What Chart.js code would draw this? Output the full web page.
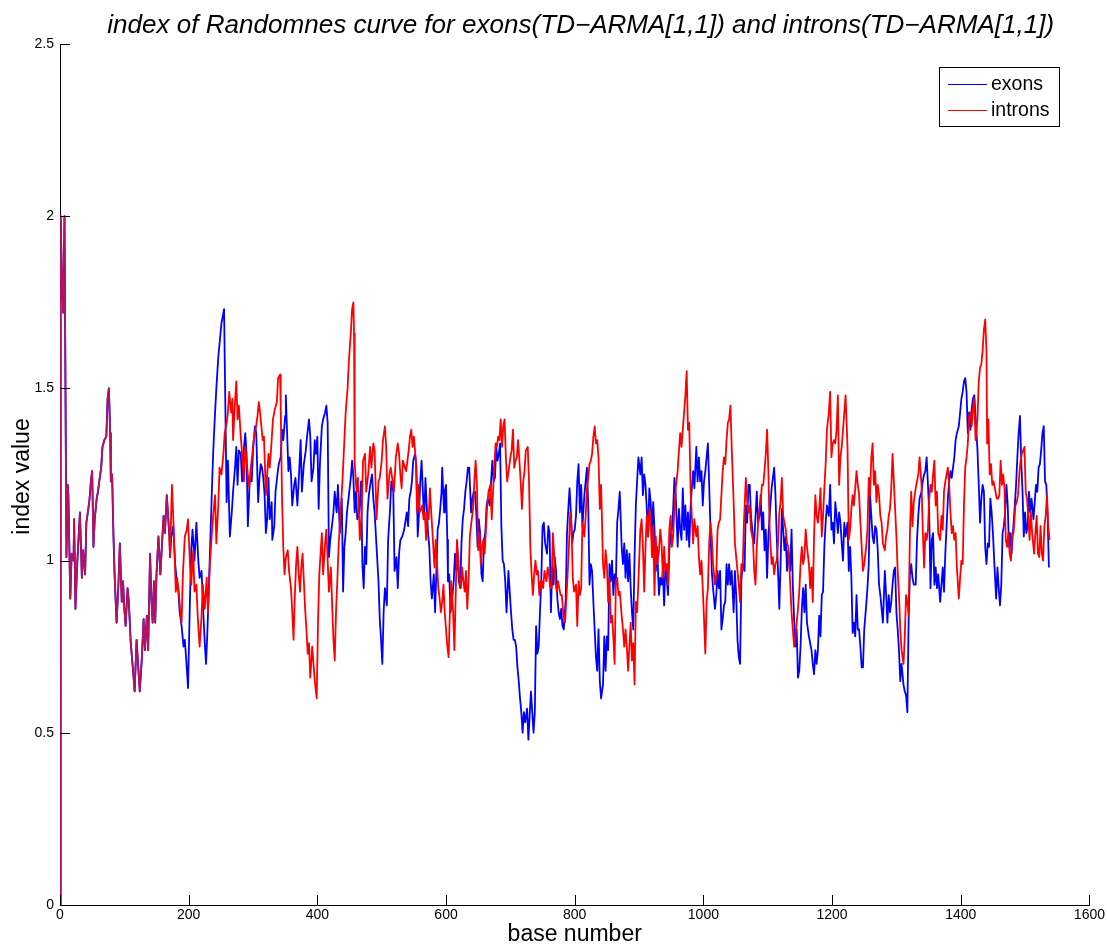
<!DOCTYPE html>
<html>
<head>
<meta charset="utf-8">
<title>index of Randomnes curve</title>
<script src="https://cdn.jsdelivr.net/npm/chart.js@4/dist/chart.umd.min.js"></script>
<style>
  html, body { margin: 0; padding: 0; background: #fff; }
  #wrap { width: 1107px; height: 945px; }
</style>
</head>
<body>
<div id="wrap"><canvas id="myChart" width="1107" height="945"></canvas></div>
<script>
// [base number, index value]
// both curves are identical up to base ~170
const sharedStart = [
  [0,0],[1,2.0],[3,1.81],[5,1.72],[7,2.0],[10,1.01],[12,1.22],[13,1.19],[16,0.89],[18,1.02],
  [21,1.0],[22,1.12],[24,0.86],[27,1.0],[31,1.14],[34,0.95],[36,1.03],[39,0.96],[41,1.11],[44,1.15],
  [46,1.18],[48,1.23],[50,1.26],[52,1.04],[54,1.12],[57,1.18],[59,1.2],[61,1.23],[64,1.27],[66,1.33],
  [69,1.35],[72,1.36],[74,1.47],[76,1.5],[78,1.37],[79,1.23],[81,1.25],[83,1.08],[85,0.95],[88,0.82],
  [91,0.94],[93,1.05],[96,0.88],[98,0.94],[100,0.86],[102,0.81],[105,0.92],[107,0.88],[110,0.76],[114,0.67],
  [116,0.62],[119,0.77],[122,0.68],[124,0.62],[127,0.71],[130,0.83],[132,0.74],[135,0.84],[137,0.74],[140,1.02],
  [142,0.89],[144,0.82],[146,0.94],[148,0.82],[150,0.96],[153,1.07],[156,0.96],[158,1.03],[161,1.13],[163,1.08],
  [166,1.19],[168,1.13],[170,1.07]
];

const exonRest = [
  [171,1.01],[173,1.07],[176,1.1],[179,0.99],[181,0.95],[184,0.91],[186,0.85],[189,0.81],[192,0.75],[194,0.77],
  [197,0.69],[199,0.63],[202,0.89],[204,1.03],[206,1.09],[209,1.0],[212,1.11],[215,1.0],[217,0.95],[220,0.97],
  [223,0.84],[225,0.76],[227,0.7],[229,0.79],[231,0.9],[234,1.08],[236,1.2],[238,1.31],[241,1.43],[243,1.5],
  [246,1.59],[249,1.65],[251,1.69],[254,1.72],[255,1.73],
  [259,1.17],[261,1.29],[264,1.07],[267,1.14],[269,1.2],[272,1.27],[274,1.33],[276,1.22],[278,1.32],[281,1.31],
  [283,1.23],[286,1.33],[288,1.37],[290,1.31],[292,1.1],[295,1.24],[298,1.23],[300,1.32],[303,1.39],[305,1.37],
  [308,1.17],[310,1.24],[312,1.28],[314,1.27],[316,1.24],[318,1.19],[320,1.08],[322,1.12],[324,1.24],[326,1.12],
  [329,1.17],[330,1.06],[333,1.1],[335,1.2],[338,1.25],[340,1.28],[343,1.3],[345,1.38],[347,1.35],[350,1.42],
  [351,1.48],[353,1.37],[355,1.26],[357,1.3],[359,1.25],[361,1.16],[364,1.22],[366,1.24],[369,1.16],[371,1.23],
  [374,1.35],[376,1.2],[379,1.28],[382,1.32],[384,1.36],[387,1.41],[389,1.36],[391,1.23],[394,1.27],[396,1.35],
  [398,1.31],[400,1.36],[402,1.15],[404,1.28],[407,1.39],[409,1.41],[412,1.43],[414,1.45],[416,1.4],[418,1.01],
  [420,1.06],[422,1.09],[425,1.14],[427,1.2],[430,1.14],[432,1.22],[435,1.08],[438,1.18],[440,0.91],[442,1.04],
  [444,1.08],[446,1.14],[449,1.19],[452,1.24],[454,1.29],[456,1.24],[458,1.14],[460,1.2],[462,1.12],[465,1.14],
  [468,1.23],[470,0.99],[472,0.92],[474,1.04],[476,0.99],[478,1.14],[480,1.19],[483,1.23],[485,1.25],[487,1.18],
  [489,1.14],[492,1.04],[495,0.94],[497,0.83],[499,0.77],[501,0.7],[503,0.85],[505,0.92],[508,0.87],[510,1.06],
  [513,1.15],[515,1.23],[518,1.2],[520,0.97],[523,1.01],[525,0.92],[527,1.02],[529,1.06],[532,1.07],[535,1.09],
  [539,1.14],[541,1.1],[543,1.18],[545,1.2],[547,1.23],[549,1.29],[552,1.31],[554,1.27],[556,1.07],[558,1.14],
  [560,1.23],[562,1.29],[564,1.2],[566,1.12],[568,1.24],[570,1.16],[572,1.08],[574,1.04],[576,0.94],[578,0.89],
  [581,0.96],[583,0.85],[585,0.97],[587,1.09],[589,1.11],[591,1.15],[593,1.2],[594,1.27],[597,1.14],[598,1.2],
  [600,1.22],[602,1.06],[603,0.94],[605,0.96],[607,0.85],[610,0.9],[612,0.94],[614,1.02],[616,0.97],[618,1.02],
  [620,0.94],[622,0.92],[624,1.05],[626,1.12],[628,1.15],[630,1.2],[632,1.23],[634,1.27],[636,1.27],[639,1.14],
  [641,1.18],[643,1.2],[645,1.2],[647,1.14],[649,1.04],[651,1.12],[653,1.08],[655,0.96],[657,0.94],[659,1.06],
  [661,1.08],[663,1.16],[665,1.18],[668,1.16],[670,1.23],[672,1.29],[674,1.23],[676,1.24],[678,1.33],[680,1.29],
  [682,1.31],[684,1.34],[686,1.1],[688,1.0],[690,0.99],[692,0.94],[694,0.85],[697,0.97],[699,0.91],[701,0.85],
  [703,0.8],[705,0.77],[707,0.77],[709,0.75],[711,0.69],[713,0.65],[715,0.6],[717,0.56],[719,0.5],[721,0.56],
  [723,0.53],[726,0.57],[728,0.48],[730,0.55],[732,0.62],[734,0.56],[736,0.5],[738,0.56],[740,0.81],[742,0.73],
  [744,0.75],[746,0.85],[748,0.94],[750,1.1],[752,1.11],[754,1.05],[757,1.02],[759,1.1],[761,1.08],[763,0.85],
  [765,0.98],[767,0.93],[769,1.01],[771,0.97],[773,0.89],[775,0.85],[777,0.83],[779,0.86],[781,0.81],[783,0.8],
  [786,0.89],[788,1.08],[790,1.15],[792,1.21],[794,1.14],[796,1.05],[798,1.08],[800,1.09],
  [802,1.13],[804,1.23],[806,1.28],[808,1.14],[810,1.22],[812,1.1],[815,1.19],[817,1.23],[819,1.27],[821,1.16],
  [823,0.93],[825,0.99],[827,0.97],[829,0.88],[831,0.8],[833,0.72],[835,0.68],[837,0.8],[839,0.65],[841,0.6],
  [844,0.64],[846,0.78],[848,0.68],[850,0.78],[852,0.74],[854,0.99],[856,0.94],[858,1.0],[860,0.9],[862,0.96],
  [864,0.94],[866,1.11],[868,1.15],[870,1.2],[873,1.04],[875,0.99],[877,1.05],[879,0.95],[881,1.03],[883,0.94],
  [885,1.02],[887,0.92],[889,0.85],[891,0.8],[893,1.01],[895,1.16],[897,1.23],[899,1.3],[902,1.25],[904,1.3],
  [906,1.19],[908,1.25],[910,1.22],[912,1.15],[914,1.07],[916,1.21],[918,1.17],[920,1.08],[922,1.17],[924,1.09],
  [926,0.97],[928,1.04],[931,0.9],[933,0.95],[935,0.93],[937,0.97],[939,0.87],[941,0.99],[943,0.95],[945,0.9],
  [947,1.03],[949,1.07],[951,1.09],[953,1.15],[955,1.24],[957,1.19],[960,1.04],[962,1.15],[964,1.09],[966,1.06],
  [968,1.21],[970,1.09],[972,1.16],[974,1.06],[976,1.14],[978,1.04],[980,1.15],[982,1.21],[984,1.26],[986,1.21],
  [989,1.33],[991,1.23],[993,1.3],[995,1.23],[997,1.26],[999,1.16],[1001,1.23],[1003,1.26],[1005,1.3],[1007,1.34],
  [1009,1.22],[1011,1.09],[1013,0.97],[1015,0.92],[1018,0.86],[1020,0.9],[1022,0.97],[1024,0.92],[1026,0.97],[1028,0.8],
  [1030,0.83],[1032,0.87],[1034,0.88],[1036,0.99],[1038,0.93],[1040,0.99],[1042,0.93],[1044,0.97],[1047,0.85],[1049,0.97],
  [1051,0.9],[1053,0.77],[1055,0.72],[1057,0.7],[1059,0.94],[1061,0.99],[1064,0.97],
  [1066,1.16],[1068,1.11],[1070,1.22],[1072,1.22],[1074,1.13],[1077,1.07],[1079,1.05],[1081,1.13],[1083,1.2],[1085,1.11],
  [1087,1.13],[1089,1.19],[1091,1.09],[1093,1.14],[1095,1.03],[1097,1.09],[1099,0.95],[1101,1.07],[1103,1.13],[1106,1.21],
  [1108,1.24],[1110,1.27],[1112,1.19],[1114,1.07],[1116,0.97],[1118,0.86],[1120,0.99],[1122,1.15],[1124,1.09],[1126,1.03],
  [1128,1.07],[1130,0.97],[1132,1.03],[1135,0.97],[1137,1.09],[1139,0.93],[1141,0.83],[1143,0.75],[1145,0.8],[1147,0.66],
  [1149,0.68],[1151,0.75],[1153,0.86],[1155,0.92],[1157,0.85],[1159,0.93],[1161,0.82],[1164,0.78],[1166,0.76],[1168,0.74],
  [1170,0.7],[1172,0.67],[1174,0.74],[1176,0.7],[1178,0.74],[1180,0.84],[1182,0.78],[1184,0.9],[1186,0.91],[1188,1.04],
  [1190,1.11],[1192,1.16],[1195,1.13],[1197,1.22],[1199,1.09],[1201,1.11],[1203,1.05],[1205,1.17],[1207,1.13],[1209,1.08],
  [1211,1.14],[1213,1.11],[1215,1.05],[1217,1.0],[1219,1.11],[1221,1.07],[1224,1.11],[1226,0.97],[1228,1.04],[1230,0.95],
  [1232,0.79],[1234,0.82],[1236,0.78],[1238,0.9],[1240,0.8],[1242,0.8],[1244,0.75],[1246,0.69],[1248,0.69],[1250,0.8],
  [1253,0.87],[1255,0.92],[1257,0.99],[1259,1.19],[1261,1.13],[1263,1.07],[1265,1.05],[1267,1.1],[1269,1.09],[1271,1.03],
  [1273,0.93],[1275,0.9],[1277,0.86],[1279,0.82],[1282,0.97],[1284,0.9],[1286,0.82],[1288,0.9],[1290,0.85],[1292,0.88],
  [1294,0.93],[1296,0.97],[1298,0.98],[1300,0.85],[1302,0.8],[1304,0.74],[1306,0.65],[1308,0.7],[1311,0.64],[1313,0.62],
  [1315,0.61],[1317,0.56],[1319,0.83],[1321,0.96],[1323,0.99],[1325,0.95],[1327,0.93],
  [1330,0.93],[1332,1.06],[1334,1.13],[1336,1.18],[1339,1.2],[1341,1.23],[1343,1.25],[1345,1.26],[1347,1.3],[1349,1.22],
  [1351,1.14],[1353,0.92],[1355,1.06],[1357,1.08],[1359,0.93],[1361,0.98],[1363,0.92],[1365,0.96],[1368,0.88],[1370,0.93],
  [1372,0.98],[1374,0.91],[1376,1.02],[1378,1.1],[1380,1.18],[1382,1.23],[1384,1.26],[1386,1.24],[1388,1.27],[1390,1.3],
  [1392,1.35],[1394,1.37],[1397,1.39],[1399,1.43],[1401,1.47],[1403,1.49],[1405,1.52],[1407,1.53],[1409,1.49],[1411,1.37],
  [1413,1.43],[1415,1.38],[1417,1.44],[1419,1.47],[1421,1.48],[1423,1.42],[1426,1.32],[1428,1.22],[1430,1.11],[1432,1.18],
  [1434,1.22],[1436,1.2],[1438,1.04],[1440,0.99],[1442,1.05],[1444,1.04],[1446,1.18],[1448,1.14],[1450,1.08],[1452,1.0],
  [1455,0.89],[1457,0.98],[1459,0.92],[1461,0.87],[1463,0.93],[1465,1.08],[1467,1.1],[1469,1.14],[1471,1.22],[1473,1.16],
  [1475,1.04],[1477,1.08],[1479,1.02],[1481,1.08],[1484,1.16],[1486,1.22],[1488,1.3],[1490,1.37],[1492,1.42],[1494,1.29],
  [1496,1.2],[1498,1.07],[1500,1.14],[1502,1.08],[1504,1.1],[1506,1.2],[1508,1.14],[1510,1.18],[1513,1.12],[1515,1.17],
  [1517,1.22],[1519,1.2],[1521,1.27],[1523,1.28],[1525,1.32],[1527,1.37],[1529,1.39],[1531,1.23],[1533,1.22],[1535,1.13],
  [1537,0.98]
];

const intronRest = [
  [171,1.01],[174,1.22],[177,1.08],[180,0.91],[182,0.95],[185,0.9],[187,0.85],[189,0.82],[191,0.96],[194,1.07],
  [197,1.09],[199,1.12],[202,0.99],[204,0.93],[207,1.03],[209,0.91],[212,0.93],[214,0.84],[217,0.75],[220,0.84],
  [222,0.93],[225,0.86],[228,0.95],[230,0.85],[233,0.99],[235,1.05],[238,1.13],[241,1.19],[243,1.05],[246,1.16],
  [248,1.27],[251,1.25],[254,1.31],[256,1.37],
  [259,1.4],[261,1.43],[263,1.49],[266,1.43],[268,1.47],[269,1.35],[272,1.46],[274,1.52],[276,1.41],[278,1.45],
  [281,1.36],[283,1.31],[286,1.23],[288,1.33],[291,1.27],[294,1.21],[296,1.26],[299,1.31],[301,1.35],[304,1.38],
  [307,1.42],[309,1.46],[311,1.43],[313,1.39],[315,1.35],[317,1.36],[320,1.19],[322,1.25],[324,1.31],[326,1.27],
  [329,1.35],[331,1.41],[334,1.44],[337,1.46],[339,1.53],[342,1.54],[343,1.45],[345,1.19],[347,1.04],[349,0.96],
  [351,1.01],[354,1.03],[356,0.97],[359,0.92],[361,0.85],[363,0.77],[365,0.9],[367,0.99],[369,1.04],[371,0.96],
  [373,0.91],[375,0.98],[377,1.02],[379,0.94],[381,0.86],[383,0.8],[385,0.73],[387,0.76],[389,0.66],[392,0.75],
  [394,0.7],[396,0.65],[399,0.6],[401,0.82],[403,0.96],[405,1.02],[407,1.08],[409,0.96],[412,1.05],[414,1.09],
  [416,1.0],[418,0.91],[421,0.98],[423,0.87],[425,0.77],[427,0.71],[429,0.85],[431,0.94],[433,1.04],[436,1.14],
  [439,1.23],[442,1.35],[444,1.43],[447,1.5],[449,1.58],[452,1.66],[454,1.73],[456,1.75],[457,1.66],[458,1.28],
  [461,1.2],[463,1.24],[466,1.06],[469,1.14],[471,1.29],[474,1.31],[476,1.2],[479,1.25],[482,1.33],[484,1.27],
  [487,1.34],[489,1.32],[492,1.12],[495,1.23],[497,1.24],[500,1.29],[502,1.35],[505,1.39],[507,1.33],[509,1.18],
  [512,1.25],[514,1.27],[517,1.23],[519,1.2],[522,1.3],[525,1.34],[527,1.31],[529,1.25],[531,1.21],[533,1.29],
  [536,1.27],
  [538,1.26],[540,1.29],[542,1.32],[544,1.36],[546,1.38],[548,1.33],[550,1.36],[553,1.29],[555,1.14],[557,1.22],
  [559,1.14],[561,1.15],[563,1.16],[565,1.12],[567,1.14],[569,1.06],[571,1.14],[573,1.12],[575,1.21],[577,1.14],
  [579,1.08],[582,0.98],[584,1.06],[586,0.99],[588,0.92],[590,0.89],[592,0.85],[594,0.88],[596,0.93],[598,0.85],
  [600,0.8],[602,0.75],[604,0.72],[606,0.85],[608,0.94],[611,0.85],[613,0.74],[615,0.9],[617,1.06],[619,1.01],
  [621,0.94],[623,0.92],[625,0.98],[627,0.94],[629,0.91],[631,0.97],[633,0.86],[635,0.94],[637,1.07],[640,1.12],
  [642,1.15],[644,1.23],[646,1.29],[648,1.22],[650,1.03],[652,1.08],[654,0.99],[656,1.04],[658,1.06],[660,1.02],
  [662,1.09],[664,1.16],[666,1.2],[669,1.22],[671,1.12],[673,1.2],[675,1.27],[677,1.34],[679,1.33],[681,1.36],
  [683,1.35],[685,1.41],[687,1.33],[689,1.39],[691,1.41],[693,1.3],[695,1.23],[698,1.27],[700,1.3],[702,1.32],
  [704,1.38],[706,1.27],[708,1.29],[710,1.3],[712,1.35],[714,1.29],[716,1.23],[718,1.15],[720,1.23],[722,1.26],
  [724,1.32],[727,1.33],[729,1.23],[731,1.04],[733,0.96],[735,0.9],[737,0.96],[739,1.0],[741,0.96],[743,0.97],
  [745,0.9],[747,0.94],[749,0.94],[751,0.92],[753,0.97],[756,0.94],[758,0.98],[760,0.96],[762,0.92],[764,0.92],
  [766,1.08],[768,1.02],[770,0.94],[772,0.91],[774,0.94],[776,0.92],[778,0.9],[780,0.9],[782,0.85],[785,0.82],
  [787,0.89],[789,0.96],[791,1.04],[793,1.14],[795,1.1],[797,0.95],[799,0.91],
  [802,0.93],[804,0.81],[806,0.94],[808,0.9],[810,0.92],[812,1.11],[815,1.07],[817,1.13],[819,1.21],[821,1.24],
  [823,1.28],[825,1.29],[827,1.31],[829,1.36],[831,1.39],[833,1.34],[835,1.35],[837,1.3],[839,1.15],[841,1.22],
  [844,0.99],[846,0.95],[848,1.03],[850,0.99],[852,0.88],[854,0.95],[856,0.82],[858,0.84],[860,0.78],[862,0.7],
  [864,0.94],[866,0.95],[868,0.9],[870,0.91],[873,0.84],[875,0.8],[877,0.75],[879,0.8],[881,0.75],[883,0.68],
  [885,0.75],[887,0.82],[889,0.71],[891,0.76],[893,0.64],[895,0.88],[897,0.85],[899,0.94],[902,1.09],[904,1.12],
  [906,1.04],[908,0.91],[910,1.04],[912,1.13],[914,1.07],[916,1.15],[918,1.12],[920,1.01],[922,1.1],[924,0.9],
  [926,1.07],[928,0.99],[931,1.03],[933,1.09],[935,1.05],[937,0.95],[939,1.04],[941,0.97],[943,0.99],[945,0.93],
  [947,1.09],[949,1.13],[951,1.04],[953,1.07],[955,1.15],[957,1.21],[960,1.26],[962,1.32],[964,1.37],[966,1.33],
  [968,1.38],[970,1.43],[972,1.48],[974,1.55],[976,1.38],[978,1.4],[980,1.21],[982,1.13],[984,1.05],[986,1.12],
  [989,1.07],[991,1.1],[993,1.01],[995,0.96],[997,1.0],[999,0.92],[1001,0.83],[1003,0.73],[1005,0.88],[1007,0.92],
  [1009,1.05],[1011,1.11],[1013,1.07],[1015,0.99],[1018,0.93],[1020,0.96],[1022,1.09],[1024,1.11],[1026,1.12],[1028,1.19],
  [1030,1.26],[1032,1.3],[1034,1.28],[1036,1.35],[1038,1.4],[1040,1.41],[1042,1.45],[1044,1.33],[1047,1.17],[1049,1.05],
  [1051,1.01],[1053,0.97],[1055,0.93],[1057,0.88],[1059,0.99],[1061,0.97],[1063,1.11],
  [1066,1.24],[1068,1.17],[1070,1.14],[1072,1.16],[1074,1.09],[1077,1.06],[1079,0.97],[1081,0.93],[1083,1.04],[1085,1.11],
  [1087,1.15],[1089,1.17],[1091,1.22],[1093,1.22],[1095,1.26],[1097,1.31],[1099,1.38],[1101,1.26],[1103,1.09],[1106,0.99],
  [1108,1.01],[1110,0.96],[1112,0.99],[1114,1.0],[1116,1.05],[1118,1.14],[1120,1.17],[1122,1.24],[1124,1.13],[1126,1.11],
  [1128,1.09],[1130,1.05],[1132,1.04],[1135,0.93],[1137,0.85],[1139,0.8],[1141,0.75],[1143,0.78],[1145,0.82],[1147,0.86],
  [1149,0.91],[1151,0.99],[1153,1.04],[1155,0.99],[1157,1.01],[1159,1.09],[1161,1.04],[1164,0.99],[1166,0.92],[1168,0.98],
  [1170,0.88],[1172,1.07],[1174,1.19],[1176,1.13],[1178,1.11],[1180,1.15],[1182,1.21],[1184,1.07],[1186,1.13],[1188,1.21],
  [1190,1.28],[1192,1.38],[1195,1.43],[1197,1.49],[1199,1.3],[1201,1.34],[1203,1.35],[1205,1.34],[1207,1.38],[1209,1.48],
  [1211,1.22],[1213,1.3],[1215,1.33],[1217,1.38],[1219,1.43],[1221,1.48],[1224,1.33],[1226,1.06],[1228,1.09],[1230,1.15],
  [1232,1.19],[1234,1.16],[1236,1.21],[1238,1.26],[1240,1.22],[1242,1.19],[1244,1.11],[1246,1.04],[1248,0.97],[1250,0.99],
  [1253,1.04],[1255,1.09],[1257,1.24],[1259,1.19],[1261,1.3],[1263,1.34],[1265,1.22],[1267,1.26],[1269,1.17],[1271,1.22],
  [1273,1.19],[1275,1.13],[1277,1.11],[1279,1.05],[1282,1.03],[1284,1.07],[1286,1.09],[1288,1.13],[1290,1.15],[1292,1.21],
  [1294,1.31],[1296,1.23],[1298,1.15],[1300,1.07],[1302,0.97],[1304,0.9],[1306,0.8],[1308,0.74],[1311,0.7],[1313,0.78],
  [1315,0.9],[1317,0.88],[1319,0.84],[1321,1.08],[1323,1.2],[1325,1.1],[1327,1.17],
  [1330,1.21],[1332,1.23],[1334,1.25],[1336,1.3],[1339,1.22],[1341,1.09],[1343,0.98],[1345,1.08],[1347,1.06],[1349,1.09],
  [1351,1.18],[1353,1.22],[1355,1.2],[1357,1.25],[1359,1.29],[1361,1.16],[1363,1.2],[1365,1.08],[1368,1.06],[1370,1.13],
  [1372,1.09],[1374,1.2],[1376,1.23],[1378,1.25],[1380,1.27],[1382,1.22],[1384,1.14],[1386,1.08],[1388,1.1],[1390,1.06],
  [1392,1.08],[1394,0.98],[1397,0.89],[1399,0.95],[1401,1.0],[1403,0.99],[1405,1.16],[1407,1.27],[1409,1.3],[1411,1.34],
  [1413,1.42],[1415,1.43],[1417,1.39],[1419,1.44],[1421,1.47],[1423,1.35],[1426,1.41],[1428,1.52],[1430,1.56],[1432,1.57],
  [1434,1.61],[1436,1.67],[1438,1.7],[1440,1.61],[1441,1.34],[1443,1.41],[1445,1.25],[1447,1.28],[1449,1.22],[1451,1.23],
  [1453,1.21],[1456,1.18],[1458,1.18],[1460,1.19],[1462,1.29],[1464,1.22],[1466,1.25],[1468,1.21],[1470,1.06],[1472,1.04],
  [1474,1.08],[1476,1.02],[1478,1.0],[1480,1.08],[1482,1.08],[1485,1.16],[1487,1.17],[1489,1.19],[1491,1.25],[1493,1.29],
  [1495,1.31],[1497,1.32],[1499,1.33],[1501,1.2],[1503,1.18],[1505,1.13],[1507,1.06],[1509,1.14],[1511,1.08],[1514,1.02],
  [1516,1.08],[1518,1.13],[1520,1.02],[1522,1.01],[1524,1.1],[1526,1.02],[1528,1.0],[1530,1.1],[1532,1.13],[1534,1.19],
  [1536,1.1],[1538,1.06]
];

const seriesNames = ['exons', 'introns'];
const xTicks = [0, 200, 400, 600, 800, 1000, 1200, 1400, 1600];
const yTicks = [0, 0.5, 1, 1.5, 2, 2.5];

const titleText = 'index of Randomnes curve for exons(TD\u2212ARMA[1,1]) and introns(TD\u2212ARMA[1,1])';
const xTitle = 'base number';
const yTitle = 'index value';

const FONT = '"Liberation Sans", Arial, Helvetica, sans-serif';
const BLUE = '#0000ff';
const RED = '#ff0000';

const toPoints = arr => arr.map(p => ({ x: p[0], y: p[1] }));
const sharedEnd = sharedStart[sharedStart.length - 1][0];

// titles, inward tick marks and the boxed legend, drawn matlab style
const matlabDecor = {
  id: 'matlabDecor',
  afterDraw(chart) {
    const { ctx, chartArea: a, scales: { x, y } } = chart;
    ctx.save();

    ctx.strokeStyle = '#000';
    ctx.lineWidth = 1;
    ctx.beginPath();
    xTicks.forEach(v => {
      const px = Math.round(x.getPixelForValue(v)) + 0.5;
      ctx.moveTo(px, a.bottom);
      ctx.lineTo(px, a.bottom - 10);
    });
    yTicks.forEach(v => {
      const py = Math.round(y.getPixelForValue(v)) + 0.5;
      ctx.moveTo(a.left, py);
      ctx.lineTo(a.left + 10, py);
    });
    ctx.stroke();

    ctx.fillStyle = '#000';
    // title, squeezed to the width it has in the picture
    ctx.font = 'italic 25px ' + FONT;
    ctx.textAlign = 'center';
    ctx.textBaseline = 'alphabetic';
    const tw = ctx.measureText(titleText).width;
    const sx = 947 / tw;
    ctx.save();
    ctx.translate((a.left + a.right) / 2 + 6, 33);
    ctx.scale(sx, 1);
    ctx.fillText(titleText, 0, 0);
    ctx.restore();

    ctx.font = '23px ' + FONT;
    ctx.textBaseline = 'alphabetic';
    ctx.fillText(xTitle, (a.left + a.right) / 2, 941);

    ctx.save();
    ctx.translate(29, (a.top + a.bottom) / 2 + 2);
    ctx.rotate(-Math.PI / 2);
    ctx.fillText(yTitle, 0, 0);
    ctx.restore();

    // legend
    const lx = 939.5, ly = 67.5, lw = 120, lh = 59;
    ctx.fillStyle = '#fff';
    ctx.fillRect(lx, ly, lw, lh);
    ctx.strokeStyle = '#000';
    ctx.strokeRect(lx, ly, lw, lh);
    const colors = [BLUE, RED];
    seriesNames.forEach((name, i) => {
      const yy = 84 + i * 26;
      ctx.strokeStyle = colors[i];
      ctx.beginPath();
      ctx.moveTo(948, yy + 0.5);
      ctx.lineTo(987, yy + 0.5);
      ctx.stroke();
      ctx.fillStyle = '#000';
      ctx.font = '19.5px ' + FONT;
      ctx.textAlign = 'left';
      ctx.textBaseline = 'middle';
      ctx.fillText(name, 991, yy + 1);
    });

    ctx.restore();
  }
};

const chartContext = document.getElementById('myChart').getContext('2d');
const myChart = new Chart(chartContext, {
  type: 'line',
  data: {
    datasets: [
      {
        label: seriesNames[0],
        data: toPoints(sharedStart.concat(exonRest)),
        borderColor: BLUE,
        borderWidth: 1.8,
        pointRadius: 0,
        tension: 0,
        fill: false,
        borderJoinStyle: 'round',
        order: 1
      },
      {
        label: seriesNames[1],
        data: toPoints(sharedStart.concat(intronRest)),
        borderColor: RED,
        borderWidth: 1.8,
        pointRadius: 0,
        tension: 0,
        fill: false,
        borderJoinStyle: 'round',
        order: 0,
        // where both curves coincide the picture shows the blended colour
        segment: {
          borderColor: c => (c.p1.parsed.x <= sharedEnd ? '#b3125e' : undefined)
        }
      }
    ]
  },
  options: {
    responsive: false,
    animation: false,
    layout: { padding: { top: 44, right: 17, left: 0, bottom: 0 } },
    plugins: {
      legend: { display: false },
      title: { display: false },
      tooltip: { enabled: false }
    },
    scales: {
      x: {
        type: 'linear',
        min: 0,
        max: 1600,
        afterBuildTicks: s => { s.ticks = xTicks.map(v => ({ value: v })); },
        afterFit: s => { s.height = 40; },
        ticks: {
          callback: v => String(v),
          font: { family: FONT, size: 14 },
          color: '#000',
          padding: 2,
          maxRotation: 0,
          autoSkip: false
        },
        grid: { display: false, drawTicks: false },
        border: { display: true, color: '#000', width: 1 }
      },
      y: {
        type: 'linear',
        min: 0,
        max: 2.5,
        afterBuildTicks: s => { s.ticks = yTicks.map(v => ({ value: v })); },
        afterFit: s => { s.width = 60; },
        ticks: {
          callback: v => String(v),
          font: { family: FONT, size: 14 },
          color: '#000',
          padding: 6,
          autoSkip: false
        },
        grid: { display: false, drawTicks: false },
        border: { display: true, color: '#000', width: 1 }
      }
    }
  },
  plugins: [matlabDecor]
});
</script>
</body>
</html>
